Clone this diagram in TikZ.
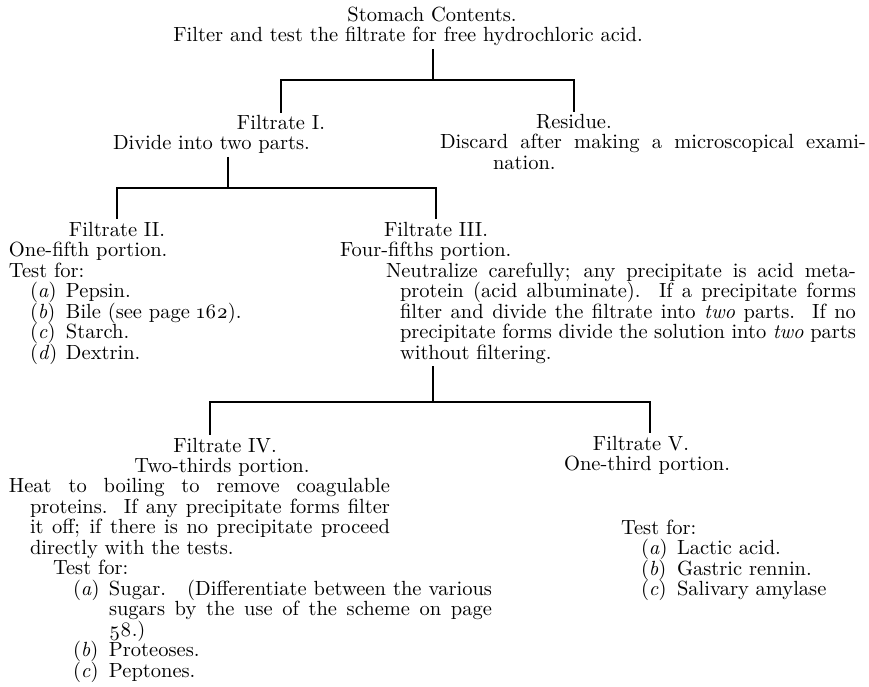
\documentclass[tikz,border=0pt]{standalone}
\usepackage{fontspec}
\setmainfont{lmroman10-regular}[Extension=.otf, ItalicFont=lmroman10-italic, BoldFont=lmroman10-bold]
\usepackage{tikz}
\newcommand\flowfont{\fontsize{20.5}{20.5}\selectfont\lineskiplimit=-10pt\relax}
\newcommand\testitem[2]{\makebox[36pt][l]{(\textit{#1})}#2}
\tikzset{%
  heading/.style = {inner sep=0pt, outer sep=3pt, anchor=base},%
  block/.style   = {inner sep=0pt, outer sep=3pt, anchor=base west},%
  branch/.style  = {line width=2.3pt}%
}

\begin{document}
\begin{tikzpicture}[x=1pt,y=-1pt,every node/.style={font=\flowfont}]
\useasboundingbox (0,0) rectangle (869,687);
% top: contents, filtrate I and residue
\node[heading] (stomach) at (432,22) {Stomach Contents.};
\node[heading] (filter) at (408,42) {Filter and test the filtrate for free hydrochloric acid.};
\node[heading] (fI) at (281,130) {Filtrate I.};
\node[block] (divide) at (110,150) {Divide into two parts.};
\node[heading] (residue) at (574,129) {Residue.};
\node[block] (discard) at (437,149) {\parbox[t]{426pt}{%
  \makebox[426pt][s]{Discard after making a microscopical exami-}\\
  \hspace*{53pt}nation.}};
\coordinate (j1) at (433,80);
\draw[branch] (filter.south -| j1) -- (j1);
\draw[branch] (fI.north) |- (j1) -| (residue.north);
% filtrate I split into II and III
\node[heading] (fII) at (117,236) {Filtrate II.};
\node[block] (fIIinfo) at (6,256.5) {\parbox[t]{300pt}{%
  One-fifth portion.\\
  Test for:\\
  \hspace*{21pt}\testitem{a}{Pepsin.}\\
  \hspace*{21pt}\testitem{b}{Bile (see page \oldstylenums{162}).}\\
  \hspace*{21pt}\testitem{c}{Starch.}\\
  \hspace*{21pt}\testitem{d}{Dextrin.}}};
\node[heading] (fIII) at (436,236) {Filtrate III.};
\node[block] (fIIIpart) at (337,256.5) {Four-fifths portion.};
\node[block] (neutral) at (383,277) {\parbox[t]{470pt}{%
  \makebox[470pt][s]{Neutralize carefully; any precipitate is acid meta-}\\
  \hspace*{14pt}\makebox[456pt][s]{protein (acid albuminate).\ \ If a precipitate forms}\\
  \hspace*{14pt}\makebox[456pt][s]{filter and divide the filtrate into \textit{two} parts.\ \ If no}\\
  \hspace*{14pt}\makebox[456pt][s]{precipitate forms divide the solution into \textit{two} parts}\\
  \hspace*{14pt}without filtering.}};
\coordinate (j2) at (228,188);
\draw[branch] (divide.south -| j2) -- (j2);
\draw[branch] (fII.north) |- (j2) -| (fIII.north);
% filtrate III split into IV and V
\node[heading] (fIV) at (225,452) {Filtrate IV.};
\node[heading] (fIVpart) at (222,472) {Two-thirds portion.};
\node[block] (heat) at (6,492.5) {\parbox[t]{381pt}{%
  \makebox[381pt][s]{Heat to boiling to remove coagulable}\\
  \hspace*{21pt}\makebox[360pt][s]{proteins.\ \ If any precipitate forms filter}\\
  \hspace*{21pt}\makebox[360pt][s]{it off; if there is no precipitate proceed}\\
  \hspace*{21pt}directly with the tests.}};
\node[block] (fIVtest) at (50,574.5) {\parbox[t]{450pt}{%
  Test for:\\
  \hspace*{20pt}\testitem{a}{\makebox[383pt][s]{Sugar.\ \ \ (Differentiate between the various}}\\
  \hspace*{56pt}\makebox[383pt][s]{sugars by the use of the scheme on page}\\
  \hspace*{56pt}\oldstylenums{58}.)\\
  \hspace*{20pt}\testitem{b}{Proteoses.}\\
  \hspace*{20pt}\testitem{c}{Peptones.}}};
\node[heading] (fV) at (641,450) {Filtrate V.};
\node[heading] (fVpart) at (647,470) {One-third portion.};
\node[block] (fVtest) at (618,534) {\parbox[t]{240pt}{%
  Test for:\\
  \hspace*{20pt}\testitem{a}{Lactic acid.}\\
  \hspace*{20pt}\testitem{b}{Gastric rennin.}\\
  \hspace*{20pt}\testitem{c}{Salivary amylase}}};
\coordinate (j3) at (433,402);
\coordinate (d4) at (210,402);
\coordinate (d5) at (650,402);
\draw[branch] (neutral.south -| j3) -- (j3);
\draw[branch] (d4 |- fIV.north) -- (d4) -- (d5) -- (d5 |- fV.north);
\end{tikzpicture}
\end{document}
